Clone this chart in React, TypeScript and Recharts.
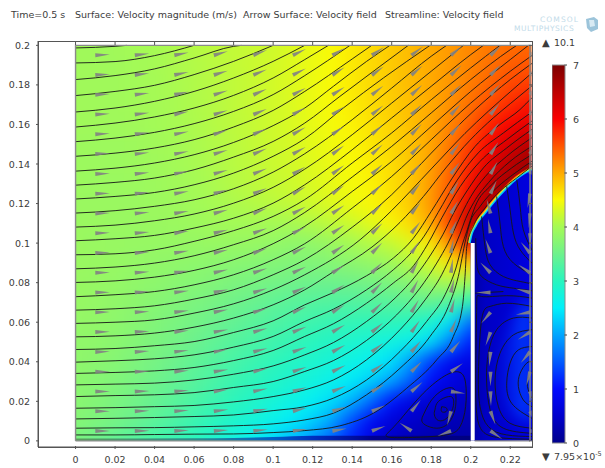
import React from 'react';
import { Area, Bar, BarChart, ComposedChart, Line, Scatter, XAxis, YAxis } from 'recharts';

const xTicks = [0, 0.02, 0.04, 0.06, 0.08, 0.1, 0.12, 0.14, 0.16, 0.18, 0.2, 0.22];
const yTicks = [0, 0.02, 0.04, 0.06, 0.08, 0.1, 0.12, 0.14, 0.16, 0.18, 0.2];
const barTicks = [0, 1, 2, 3, 4, 5, 6, 7];

// colour scale of the surface plot
const scaleStops: [number, number, number, number][] = [
  [0, 0, 0, 140], [0.5, 0, 0, 205], [1, 0, 10, 255], [1.5, 0, 90, 255], [2, 0, 165, 255],
  [2.5, 0, 240, 250], [3, 40, 245, 190], [3.5, 110, 242, 140], [4, 165, 250, 85], [4.25, 205, 250, 45], [4.5, 250, 250, 5],
  [5, 255, 170, 0], [5.5, 255, 85, 0], [6, 250, 0, 0], [6.5, 190, 0, 0], [7, 125, 0, 0],
];

// speed, rows from y=0.2 down to y=0, columns x=0, 0.01, ...
const speedRows = [
  [3.95, 3.95, 3.95, 4, 4, 4.05, 4.1, 4.15, 4.18, 4.22, 4.25, 4.33, 4.42, 4.5, 4.6, 4.7, 4.8, 4.9, 5, 5.1, 5.2, 5.28, 5.35, 5.4],
  [3.95, 3.95, 3.95, 3.98, 4, 4.05, 4.08, 4.13, 4.18, 4.23, 4.28, 4.35, 4.42, 4.5, 4.6, 4.7, 4.8, 4.9, 5, 5.1, 5.22, 5.35, 5.45, 5.5],
  [3.95, 3.95, 3.95, 3.97, 4, 4.03, 4.07, 4.12, 4.17, 4.22, 4.28, 4.34, 4.42, 4.5, 4.6, 4.7, 4.8, 4.9, 5, 5.12, 5.27, 5.42, 5.58, 5.65],
  [3.95, 3.95, 3.95, 3.97, 4, 4.02, 4.06, 4.1, 4.16, 4.22, 4.27, 4.33, 4.42, 4.5, 4.58, 4.68, 4.78, 4.88, 5, 5.15, 5.35, 5.55, 5.75, 5.9],
  [3.95, 3.95, 3.95, 3.96, 3.98, 4.01, 4.05, 4.1, 4.15, 4.2, 4.26, 4.32, 4.4, 4.47, 4.55, 4.65, 4.75, 4.87, 5.02, 5.22, 5.45, 5.8, 6, 6.15],
  [3.93, 3.93, 3.93, 3.94, 3.96, 3.99, 4.03, 4.08, 4.13, 4.19, 4.25, 4.3, 4.38, 4.45, 4.52, 4.62, 4.72, 4.85, 5.02, 5.3, 5.65, 6, 6.3, 6.55],
  [3.92, 3.92, 3.92, 3.93, 3.95, 3.98, 4.02, 4.06, 4.12, 4.17, 4.23, 4.28, 4.35, 4.42, 4.5, 4.58, 4.68, 4.83, 5.05, 5.38, 5.8, 6.2, 6.55, 6.75],
  [3.92, 3.91, 3.91, 3.92, 3.93, 3.96, 3.99, 4.04, 4.1, 4.15, 4.2, 4.25, 4.32, 4.4, 4.47, 4.55, 4.67, 4.82, 5.08, 5.45, 5.95, 6.5, 6.7, 6.7],
  [3.9, 3.9, 3.9, 3.9, 3.92, 3.94, 3.97, 4.01, 4.05, 4.1, 4.14, 4.2, 4.27, 4.35, 4.43, 4.52, 4.65, 4.8, 5.1, 5.55, 6.2, 6.65, 6.7, 6.7],
  [3.9, 3.9, 3.89, 3.89, 3.9, 3.91, 3.93, 3.96, 3.98, 4, 4, 4.02, 4.08, 4.18, 4.25, 4.38, 4.52, 4.72, 4.98, 5.65, 6.5, 6.7, 6.7, 6.7],
  [3.9, 3.89, 3.88, 3.87, 3.87, 3.87, 3.87, 3.88, 3.88, 3.88, 3.85, 3.8, 3.82, 3.9, 4, 4.1, 4.2, 4.38, 4.6, 5.2, 6.1, 6.7],
  [3.9, 3.88, 3.87, 3.85, 3.83, 3.81, 3.79, 3.77, 3.75, 3.73, 3.7, 3.68, 3.68, 3.72, 3.78, 3.85, 3.95, 4.1, 4.3, 4.6, 4.8],
  [3.88, 3.87, 3.85, 3.82, 3.79, 3.75, 3.72, 3.68, 3.64, 3.6, 3.56, 3.53, 3.5, 3.5, 3.53, 3.58, 3.65, 3.75, 3.9, 4.05, 3.95],
  [3.87, 3.85, 3.82, 3.78, 3.73, 3.68, 3.63, 3.58, 3.52, 3.47, 3.4, 3.36, 3.32, 3.3, 3.3, 3.32, 3.35, 3.4, 3.45, 3.3, 3],
  [3.85, 3.83, 3.79, 3.74, 3.68, 3.62, 3.56, 3.49, 3.43, 3.36, 3.29, 3.22, 3.16, 3.11, 3.08, 3.06, 3.05, 3, 2.85, 2.45, 1.6],
  [3.82, 3.8, 3.76, 3.7, 3.63, 3.56, 3.49, 3.41, 3.33, 3.25, 3.17, 3.09, 3.01, 2.94, 2.87, 2.8, 2.72, 2.62, 2.4, 1.75, 1.1],
  [3.8, 3.76, 3.72, 3.65, 3.58, 3.5, 3.41, 3.32, 3.23, 3.14, 3.05, 2.96, 2.87, 2.78, 2.68, 2.57, 2.4, 1.95, 1.3, 0.85, 0.7],
  [3.78, 3.73, 3.67, 3.6, 3.52, 3.43, 3.34, 3.24, 3.14, 3.04, 2.94, 2.84, 2.74, 2.62, 2.47, 2.28, 2, 1.5, 0.95, 0.7, 0.55],
  [3.75, 3.7, 3.62, 3.54, 3.45, 3.36, 3.25, 3.14, 3.03, 2.92, 2.8, 2.68, 2.55, 2.37, 2.1, 1.6, 1.05, 0.7, 0.55, 0.5, 0.4],
  [3.72, 3.65, 3.57, 3.48, 3.38, 3.27, 3.15, 3.03, 2.9, 2.77, 2.63, 2.48, 2.3, 2, 1.4, 0.9, 0.6, 0.5, 0.4, 0.35, 0.3],
  [3.6, 3.5, 3.4, 3.3, 3.2, 3.1, 3, 2.85, 2.7, 2.55, 2.35, 2.1, 1.85, 1.5, 1.1, 0.7, 0.45, 0.3, 0.25, 0.2, 0.2],
];

// arrow directions in degrees, rows y=0.195 down to 0.005, columns x=0.01, 0.03, ... 0.23
const arrowRows = [
  [3, 7, 11, 16, 21, 26, 30, 34, 37, 40, 42, 42],
  [3, 7, 12, 17, 22, 27, 32, 36, 40, 43, 45, 45],
  [3, 7, 12, 17, 23, 28, 33, 38, 42, 45, 48, 50],
  [3, 7, 12, 17, 23, 29, 34, 39, 44, 47, 51, 54],
  [3, 7, 11, 17, 23, 29, 35, 41, 45, 49, 54, 58],
  [3, 6, 11, 17, 23, 29, 36, 42, 47, 52, 57, 60],
  [2, 6, 11, 16, 22, 29, 36, 42, 48, 54, 60, 65],
  [2, 6, 10, 16, 22, 29, 36, 43, 50, 58, 65, 260],
  [2, 5, 10, 15, 21, 28, 35, 43, 51, 61, 105, 265],
  [2, 5, 9, 14, 20, 27, 35, 44, 53, 66, 100, 270],
  [2, 4, 9, 13, 19, 26, 35, 45, 56, 80, 110, 130],
  [1, 4, 8, 13, 18, 25, 33, 45, 60, 83, 135, 145],
  [1, 4, 7, 12, 17, 24, 33, 45, 62, 77, 180, 165],
  [1, 3, 7, 11, 16, 23, 32, 44, 60, 75, 230, 190],
  [1, 3, 6, 10, 15, 22, 30, 40, 55, 68, 250, 212],
  [1, 3, 6, 10, 14, 20, 28, 38, 50, 50, 265, 230],
  [0, 2, 5, 9, 13, 19, 26, 35, 45, 35, 270, 255],
  [0, 2, 5, 8, 12, 17, 22, 30, 40, -8, 272, 285],
  [0, 2, 4, 7, 10, 14, 18, 24, 50, 255, 290, 300],
  [0, 1, 3, 4, 6, 8, 10, 20, 145, 200, 325, 355],
];

const inflowLines: [number, number][][] = [
  [[0, 0.1987], [0.02, 0.1995], [0.026, 0.2]],
  [[0, 0.1911], [0.02, 0.1918], [0.04, 0.1948], [0.06, 0.2]],
  [[0, 0.1827], [0.02, 0.1847], [0.04, 0.1881], [0.06, 0.1936], [0.08, 0.1995], [0.084, 0.2]],
  [[0, 0.1746], [0.02, 0.1767], [0.04, 0.1798], [0.06, 0.1852], [0.08, 0.1919], [0.1, 0.2]],
  [[0, 0.1663], [0.02, 0.1683], [0.04, 0.1717], [0.06, 0.1767], [0.08, 0.1835], [0.1, 0.1919], [0.116, 0.2]],
  [[0, 0.1587], [0.02, 0.1607], [0.04, 0.1638], [0.06, 0.1683], [0.08, 0.1747], [0.1, 0.1835], [0.116, 0.1928], [0.128, 0.2]],
  [[0, 0.1513], [0.02, 0.1531], [0.04, 0.156], [0.06, 0.1604], [0.08, 0.1666], [0.1, 0.1751], [0.116, 0.1847], [0.1389, 0.2]],
  [[0, 0.1439], [0.02, 0.1455], [0.04, 0.1481], [0.06, 0.1523], [0.08, 0.1587], [0.1, 0.1671], [0.116, 0.1767], [0.14, 0.1931], [0.1499, 0.2]],
  [[0, 0.1364], [0.02, 0.1379], [0.04, 0.1405], [0.06, 0.1447], [0.08, 0.1509], [0.1, 0.1594], [0.116, 0.1683], [0.1305, 0.1793], [0.1473, 0.1919], [0.1591, 0.2]],
  [[0, 0.1293], [0.02, 0.1307], [0.04, 0.1329], [0.06, 0.1371], [0.08, 0.1435], [0.1, 0.1514], [0.116, 0.1607], [0.1338, 0.1742], [0.1541, 0.1894], [0.1684, 0.2]],
  [[0, 0.1223], [0.02, 0.1236], [0.04, 0.1256], [0.06, 0.1295], [0.08, 0.1354], [0.1, 0.1439], [0.116, 0.1528], [0.1355, 0.1683], [0.1558, 0.1835], [0.1794, 0.2]],
  [[0, 0.1152], [0.02, 0.1164], [0.04, 0.1186], [0.06, 0.1219], [0.08, 0.1275], [0.1, 0.1359], [0.116, 0.1452], [0.14, 0.1624], [0.16, 0.1784], [0.18, 0.1945], [0.1878, 0.2]],
  [[0, 0.1081], [0.02, 0.1091], [0.04, 0.1113], [0.06, 0.1147], [0.08, 0.1202], [0.1, 0.1282], [0.116, 0.1374], [0.14, 0.1548], [0.16, 0.1708], [0.18, 0.1869], [0.1963, 0.2]],
  [[0, 0.1012], [0.02, 0.1022], [0.04, 0.1039], [0.06, 0.1076], [0.08, 0.1126], [0.1, 0.1202], [0.116, 0.1295], [0.14, 0.1472], [0.16, 0.1633], [0.18, 0.1793], [0.2, 0.1953], [0.2064, 0.2]],
  [[0, 0.0941], [0.02, 0.0946], [0.04, 0.0966], [0.06, 0.1009], [0.08, 0.1063], [0.1, 0.1135], [0.116, 0.122], [0.14, 0.1405], [0.16, 0.1557], [0.18, 0.1725], [0.2, 0.1886], [0.2148, 0.2]],
  [[0, 0.087], [0.02, 0.0879], [0.04, 0.0899], [0.06, 0.0936], [0.08, 0.0992], [0.1, 0.1063], [0.116, 0.1155], [0.14, 0.1334], [0.16, 0.1489], [0.18, 0.1658], [0.2, 0.1827], [0.22, 0.1978], [0.2233, 0.2]],
  [[0, 0.0801], [0.02, 0.0809], [0.04, 0.0828], [0.06, 0.0862], [0.08, 0.0916], [0.1, 0.0997], [0.116, 0.1085], [0.14, 0.1261], [0.16, 0.1413], [0.18, 0.159], [0.2, 0.1767], [0.22, 0.1928], [0.2292, 0.2]],
  [[0, 0.0729], [0.02, 0.0739], [0.04, 0.0755], [0.06, 0.0789], [0.08, 0.084], [0.1, 0.0916], [0.116, 0.0997], [0.14, 0.1177], [0.16, 0.1337], [0.18, 0.1523], [0.2, 0.1708], [0.22, 0.1869], [0.2309, 0.1948]],
  [[0, 0.0661], [0.02, 0.0668], [0.04, 0.0683], [0.06, 0.0717], [0.08, 0.0764], [0.1, 0.084], [0.116, 0.0916], [0.14, 0.108], [0.16, 0.1245], [0.18, 0.1455], [0.2022, 0.1675], [0.22, 0.1827], [0.2309, 0.1908]],
  [[0, 0.0594], [0.02, 0.06], [0.04, 0.0612], [0.06, 0.0646], [0.08, 0.0693], [0.1, 0.0764], [0.116, 0.084], [0.144, 0.1017], [0.16, 0.1165], [0.18, 0.1375], [0.1971, 0.1555], [0.2089, 0.1667], [0.22, 0.1765], [0.2309, 0.186]],
  [[0, 0.0526], [0.02, 0.0531], [0.04, 0.0545], [0.06, 0.0575], [0.08, 0.0621], [0.1, 0.0688], [0.116, 0.0764], [0.1305, 0.0855], [0.15, 0.098], [0.1642, 0.1105], [0.176, 0.1235], [0.1878, 0.1385], [0.1996, 0.152], [0.2114, 0.1633], [0.22, 0.1705], [0.2309, 0.1795]],
  [[0, 0.0462], [0.02, 0.0467], [0.04, 0.0481], [0.06, 0.0502], [0.08, 0.0548], [0.1, 0.0607], [0.116, 0.0688], [0.1305, 0.075], [0.1473, 0.0835], [0.1608, 0.0924], [0.171, 0.1025], [0.18, 0.116], [0.1904, 0.1325], [0.2022, 0.1489], [0.2148, 0.16], [0.2249, 0.1675], [0.2309, 0.1735]],
  [[0, 0.0398], [0.02, 0.0405], [0.04, 0.0415], [0.06, 0.0435], [0.08, 0.0474], [0.1, 0.0528], [0.116, 0.0604], [0.1305, 0.0666], [0.1473, 0.0764], [0.1608, 0.0865], [0.1693, 0.0945], [0.1764, 0.1035], [0.1835, 0.1155], [0.1929, 0.1315], [0.2038, 0.1456], [0.2165, 0.1557], [0.2308, 0.1662]],
  [[0, 0.0341], [0.02, 0.0346], [0.04, 0.0354], [0.06, 0.0371], [0.08, 0.0406], [0.1, 0.0457], [0.116, 0.0528], [0.1305, 0.0592], [0.1473, 0.0696], [0.1608, 0.0798], [0.171, 0.0885], [0.1785, 0.1], [0.1855, 0.113], [0.1946, 0.1285], [0.2047, 0.1413], [0.2182, 0.1523], [0.2308, 0.1616]],
  [[0, 0.0283], [0.02, 0.0287], [0.04, 0.0292], [0.06, 0.0308], [0.08, 0.0337], [0.1, 0.0379], [0.116, 0.0435], [0.1305, 0.0497], [0.1473, 0.0604], [0.1617, 0.0722], [0.1726, 0.084], [0.18, 0.0945], [0.186, 0.1045], [0.1915, 0.1155], [0.1985, 0.127], [0.2064, 0.138], [0.2182, 0.1481], [0.2308, 0.1574]],
  [[0, 0.0224], [0.02, 0.0229], [0.04, 0.0233], [0.06, 0.0244], [0.08, 0.027], [0.1, 0.03], [0.116, 0.0351], [0.1305, 0.0406], [0.1473, 0.0508], [0.1625, 0.0637], [0.1743, 0.0772], [0.1828, 0.0899], [0.1885, 0.1], [0.1925, 0.1085], [0.1955, 0.115], [0.2, 0.1235], [0.2072, 0.1335], [0.2182, 0.1439], [0.2308, 0.1532]],
  [[0, 0.0165], [0.02, 0.0168], [0.04, 0.0173], [0.06, 0.0179], [0.08, 0.0197], [0.1, 0.0224], [0.116, 0.0258], [0.1305, 0.0308], [0.1473, 0.041], [0.1642, 0.0562], [0.1769, 0.0713], [0.1853, 0.084], [0.1905, 0.095], [0.1945, 0.1045], [0.1975, 0.1125], [0.2015, 0.1205], [0.2089, 0.1305], [0.2199, 0.1413], [0.2308, 0.1489]],
  [[0, 0.0111], [0.02, 0.0114], [0.04, 0.0118], [0.06, 0.0123], [0.08, 0.0131], [0.1, 0.0153], [0.116, 0.0173], [0.1305, 0.0216], [0.1473, 0.0308], [0.1642, 0.0452], [0.1777, 0.0604], [0.187, 0.0739], [0.1925, 0.0874], [0.1955, 0.0985], [0.198, 0.106], [0.2022, 0.1185], [0.2106, 0.1295], [0.2207, 0.138], [0.2308, 0.1447]],
  [[0, 0.0064], [0.02, 0.0066], [0.04, 0.0067], [0.06, 0.0071], [0.08, 0.0076], [0.1, 0.0086], [0.116, 0.0106], [0.1305, 0.014], [0.1473, 0.0233], [0.1642, 0.0367], [0.1794, 0.0528], [0.1887, 0.068], [0.1937, 0.0831], [0.1974, 0.1017], [0.1993, 0.1093], [0.2047, 0.1185], [0.2131, 0.1279], [0.2224, 0.1354], [0.2308, 0.1413]],
  [[0, 0.003], [0.02, 0.003], [0.04, 0.0032], [0.06, 0.0034], [0.08, 0.0035], [0.1, 0.0042], [0.116, 0.0052], [0.1338, 0.0076], [0.1507, 0.014], [0.1676, 0.0266], [0.1828, 0.041], [0.1912, 0.0528], [0.1958, 0.068], [0.1971, 0.0831], [0.198, 0.0983], [0.2017, 0.1093], [0.2072, 0.1177], [0.2148, 0.1262], [0.2232, 0.1329], [0.2308, 0.1388]],
];

const cornerVortex: [number, number][][] = [
  [[0.1853, 0.0173], [0.1878, 0.0165], [0.1875, 0.0148], [0.1853, 0.0148], [0.1853, 0.0173]],
  [[0.1819, 0.0157], [0.1836, 0.0199], [0.1887, 0.0224], [0.1912, 0.0211], [0.1909, 0.0165], [0.1878, 0.0114], [0.1836, 0.0103], [0.1816, 0.0131], [0.1819, 0.0157]],
  [[0.176, 0.0131], [0.1802, 0.0207], [0.1861, 0.0258], [0.1912, 0.0266], [0.1925, 0.0224], [0.192, 0.0157], [0.1887, 0.0089], [0.1828, 0.0064], [0.1769, 0.0081], [0.1752, 0.0106], [0.176, 0.0131]],
  [[0.1575, 0.0035], [0.1642, 0.0106], [0.176, 0.0241], [0.1878, 0.0334], [0.1946, 0.0346], [0.1974, 0.0292], [0.1974, 0.0173], [0.1946, 0.0072], [0.1878, 0.003], [0.1726, 0.0018], [0.1591, 0.0018], [0.1575, 0.0035]],
];

const chamberLines: [number, number][][] = [
  [[0.2025, 0.1025], [0.203, 0.0899], [0.2055, 0.0831], [0.2131, 0.0789], [0.2216, 0.0772], [0.2309, 0.0759]],
  [[0.2055, 0.1135], [0.2072, 0.0983], [0.2098, 0.089], [0.2165, 0.0831], [0.225, 0.0806], [0.2309, 0.0794]],
  [[0.2131, 0.1236], [0.2148, 0.1101], [0.2165, 0.0983], [0.2216, 0.0899], [0.2309, 0.084]],
  [[0.2182, 0.1287], [0.2199, 0.1169], [0.2216, 0.1051], [0.225, 0.0966], [0.2309, 0.0899]],
  [[0.2233, 0.1321], [0.225, 0.1186], [0.2266, 0.1068], [0.2309, 0.0966]],
  [[0.2022, 0.0747], [0.2165, 0.0755]],
  [[0.2309, 0.0722], [0.2182, 0.0734], [0.2055, 0.073], [0.203, 0.068], [0.2025, 0.0342], [0.203, 0.014], [0.2055, 0.0055], [0.2131, 0.0018], [0.2309, 0.0008]],
  [[0.2309, 0.068], [0.2182, 0.0696], [0.2098, 0.068], [0.2055, 0.0612], [0.2039, 0.0342], [0.2047, 0.0173], [0.2089, 0.0072], [0.2182, 0.003], [0.2309, 0.0022]],
  [[0.2309, 0.0621], [0.2216, 0.0621], [0.2131, 0.0562], [0.2089, 0.0443], [0.208, 0.0308], [0.2098, 0.0157], [0.2165, 0.0064], [0.2309, 0.0038]],
  [[0.2309, 0.0562], [0.2216, 0.0536], [0.2148, 0.0443], [0.2123, 0.0308], [0.214, 0.0173], [0.2199, 0.0089], [0.2309, 0.0064]],
  [[0.2309, 0.0477], [0.2241, 0.046], [0.2199, 0.0393], [0.2182, 0.0292], [0.2207, 0.019], [0.2309, 0.0114]],
  [[0.2309, 0.0401], [0.2283, 0.0393], [0.225, 0.0342], [0.2241, 0.0275], [0.2266, 0.0207], [0.2309, 0.0173]],
  [[0.2309, 0.035], [0.2292, 0.0325], [0.2287, 0.0275], [0.2309, 0.0216]],
];

const separator: [number, number][] = [
  [0.2, 0.1], [0.2006, 0.103], [0.203, 0.1085], [0.208, 0.1153], [0.213, 0.1215], [0.218, 0.127], [0.224, 0.1325], [0.231, 0.1368],
];
const wallLayer: [number, number][] = [[0, 0.0012], [0.06, 0.0013], [0.08, 0.0015], [0.1, 0.0019], [0.12, 0.0026], [0.2, 0.0026]];
const chamberGlow: [number, number, number][] = [
  [0.214, 0.03, 0.04], [0.219, 0.016, 0.056], [0.224, 0.012, 0.066], [0.231, 0.01, 0.072], [0.245, 0.01, 0.072],
];
const frameEdges: [number, number][][] = [
  [[0, 0], [0, 0.2], [0.23, 0.2], [0.23, 0]],
  [[0, 0], [0.2, 0]],
  [[0.202, 0], [0.23, 0]],
];
const strip: [number, number][] = [[0.2, 0.1], [0.202, 0.1]];

const X_DOMAIN: [number, number] = [-0.019, 0.231];
const Y_DOMAIN: [number, number] = [-0.0031, 0.2022];

const topTickPoints = xTicks.map(x => ({ x, y: Y_DOMAIN[1] }));
const rightTickPoints = yTicks.map(y => ({ x: X_DOMAIN[1], y }));

const toPoints = (pts: [number, number][]) => pts.map(([x, y]) => ({ x, y }));
const CELL = 20.5;
const EDGE = 30;

const heatCells = speedRows.flatMap((row, r) =>
  row.map((v, c) => ({
    x: +(c * 0.01).toFixed(2),
    y: +(0.2 - r * 0.01).toFixed(2),
    v,
    last: c === row.length - 1,
  }))
);
const arrows = arrowRows.flatMap((row, r) =>
  row.map((a, c) => ({ x: +(0.01 + c * 0.02).toFixed(2), y: +(0.195 - r * 0.01).toFixed(3), a }))
);
const regionData = separator.map(([x, y]) => ({ x, y: [0, y] }));
const glowData = chamberGlow.map(([x, lo, hi]) => ({ x, y: [lo, hi] }));
const wallData = wallLayer.map(([x, y]) => ({ x, y: [0, y] }));
const stripData = strip.map(([x, y]) => ({ x, y: [0, y] }));

function speedColor(v: number) {
  for (let i = 1; i < scaleStops.length; i++) {
    if (v <= scaleStops[i][0]) {
      const a = scaleStops[i - 1];
      const b = scaleStops[i];
      const t = (v - a[0]) / (b[0] - a[0]);
      const mix = (k: number) => Math.round(a[k] + (b[k] - a[k]) * t);
      return `rgb(${mix(1)},${mix(2)},${mix(3)})`;
    }
  }
  return 'rgb(125,0,0)';
}

const HeatCell = (props: any) => {
  const { cx, cy, payload } = props;
  const left = payload.x === 0 ? EDGE : 0;
  const right = payload.last ? EDGE : 0;
  const top = payload.y === 0.2 ? EDGE : 0;
  const bottom = payload.y === 0 ? EDGE : 0;
  return (
    <rect
      x={cx - CELL / 2 - left}
      y={cy - CELL / 2 - top}
      width={CELL + left + right}
      height={CELL + top + bottom}
      fill={speedColor(payload.v)}
    />
  );
};

const ArrowMark = (props: any) => {
  const { cx, cy, payload } = props;
  return (
    <polygon
      points="0,-2 14.5,0 0,2"
      transform={`translate(${cx} ${cy}) rotate(${-payload.a})`}
      fill="#828282"
      opacity={0.92}
    />
  );
};

const fmt = (v: number) => String(+v.toFixed(2));
const tickStyle = { fontSize: 9.5, fill: '#3c3c3c', fontFamily: '"DejaVu Sans"' };
const spine = '#555';

const BottomTick = ({ x, y, payload }: any) => (
  <g>
    <line x1={x} x2={x} y1={y} y2={y - 3} stroke={spine} />
    <text x={x} y={y + 14} textAnchor="middle" {...tickStyle}>{fmt(payload.value)}</text>
  </g>
);
const LeftTick = ({ x, y, payload }: any) => (
  <g>
    <line x1={x} x2={x + 3} y1={y} y2={y} stroke={spine} />
    <text x={x - 6} y={y + 3.5} textAnchor="end" {...tickStyle}>{fmt(payload.value)}</text>
  </g>
);
const TopTickMark = ({ cx, cy }: any) => <line x1={cx} x2={cx} y1={cy} y2={cy + 4} stroke={spine} />;
const RightTickMark = ({ cx, cy }: any) => <line x1={cx} x2={cx - 3} y1={cy} y2={cy} stroke={spine} />;
const BarTick = ({ x, y, payload }: any) => (
  <g>
    <line x1={x} x2={x - 2.5} y1={y} y2={y} stroke="#444" />
    <text x={x + 6} y={y + 3.5} {...tickStyle}>{payload.value}</text>
  </g>
);

function FieldChart() {
  const streamStyle = { stroke: '#161616', strokeWidth: 0.9, dot: false, isAnimationActive: false, legendType: 'none' as const, zIndex: 500 };
  return (
    <ComposedChart width={605} height={468} margin={{ top: 41, right: 73, bottom: 0, left: 0 }}>
      <defs>
        <filter id="heatBlur" x="-8%" y="-8%" width="116%" height="116%" colorInterpolationFilters="sRGB">
          <feGaussianBlur stdDeviation="9" />
        </filter>
        <filter id="softBlur" x="-40%" y="-40%" width="180%" height="180%" colorInterpolationFilters="sRGB">
          <feGaussianBlur stdDeviation="7" />
        </filter>
        <clipPath id="plotClip">
          <rect x={75.5} y={45.5} width={456} height={395.5} />
        </clipPath>
        <linearGradient id="chamberFill" x1="0" y1="0" x2="1" y2="0">
          <stop offset="0%" stopColor="#0000a4" />
          <stop offset="25%" stopColor="#0000c4" />
          <stop offset="100%" stopColor="#0000e0" />
        </linearGradient>
        <linearGradient id="glowFill" x1="0" y1="0" x2="1" y2="0">
          <stop offset="0%" stopColor="#0030ff" stopOpacity={0.15} />
          <stop offset="55%" stopColor="#0048ff" stopOpacity={1} />
          <stop offset="100%" stopColor="#0048ff" stopOpacity={1} />
        </linearGradient>
        <linearGradient id="wallFill" x1="0" y1="0" x2="1" y2="0">
          <stop offset="0%" stopColor="#5c9c5c" />
          <stop offset="30%" stopColor="#2c8c8c" />
          <stop offset="50%" stopColor="#0060c8" />
          <stop offset="60%" stopColor="#0030c0" />
          <stop offset="75%" stopColor="#000090" />
          <stop offset="100%" stopColor="#000080" />
        </linearGradient>
      </defs>
      <style>{`.heat-layer{filter:url(#heatBlur);clip-path:url(#plotClip)}.arrow-layer{clip-path:url(#plotClip)}.glow-layer{filter:url(#softBlur);clip-path:url(#plotClip)}`}</style>

      <XAxis type="number" dataKey="x" domain={X_DOMAIN} ticks={xTicks} allowDataOverflow height={21} stroke={spine} tickSize={0} tick={<BottomTick />} interval={0} />
      <YAxis type="number" dataKey="y" domain={Y_DOMAIN} ticks={yTicks} allowDataOverflow width={38} stroke={spine} tickSize={0} tick={<LeftTick />} interval={0} />

      <Scatter className="heat-layer" data={heatCells} shape={<HeatCell />} isAnimationActive={false} zIndex={100} />

      <Line data={toPoints(separator)} dataKey="y" type="monotone" stroke="#ff6a00" strokeWidth={7} dot={false} isAnimationActive={false} zIndex={150} />
      <Line data={toPoints(separator)} dataKey="y" type="monotone" stroke="#ffe000" strokeWidth={5.4} dot={false} isAnimationActive={false} zIndex={151} />
      <Line data={toPoints(separator)} dataKey="y" type="monotone" stroke="#70f0a0" strokeWidth={4} dot={false} isAnimationActive={false} zIndex={152} />
      <Line data={toPoints(separator)} dataKey="y" type="monotone" stroke="#00c8ff" strokeWidth={2.6} dot={false} isAnimationActive={false} zIndex={153} />

      <Area data={regionData} dataKey="y" type="monotone" fill="url(#chamberFill)" fillOpacity={1} stroke="none" dot={false} isAnimationActive={false} zIndex={200} />
      <Area className="glow-layer" data={glowData} dataKey="y" type="monotone" fill="url(#glowFill)" fillOpacity={1} stroke="none" dot={false} isAnimationActive={false} zIndex={210} />
      <Area data={wallData} dataKey="y" type="monotone" fill="url(#wallFill)" fillOpacity={1} stroke="none" dot={false} isAnimationActive={false} zIndex={220} />
      <Area data={stripData} dataKey="y" type="linear" fill="#ffffff" fillOpacity={1} stroke="none" dot={false} isAnimationActive={false} zIndex={230} />

      {inflowLines.map((pts, i) => (
        <Line key={`in-${i}`} data={toPoints(pts)} dataKey="y" type="monotone" {...streamStyle} />
      ))}
      {cornerVortex.map((pts, i) => (
        <Line key={`vx-${i}`} data={toPoints(pts)} dataKey="y" type="natural" {...streamStyle} />
      ))}
      {chamberLines.map((pts, i) => (
        <Line key={`ch-${i}`} data={toPoints(pts)} dataKey="y" type="natural" {...streamStyle} />
      ))}

      <Scatter className="arrow-layer" data={arrows} shape={<ArrowMark />} isAnimationActive={false} zIndex={600} />

      {frameEdges.map((pts, i) => (
        <Line key={`edge-${i}`} data={toPoints(pts)} dataKey="y" type="linear" stroke="#8a8a8a" strokeWidth={1.4} dot={false} isAnimationActive={false} zIndex={700} />
      ))}
      <Scatter data={topTickPoints} shape={<TopTickMark />} isAnimationActive={false} zIndex={720} />
      <Scatter data={rightTickPoints} shape={<RightTickMark />} isAnimationActive={false} zIndex={720} />
    </ComposedChart>
  );
}

function ScaleBar() {
  return (
    <BarChart width={43} height={398} data={[{ name: 'speed', v: 7 }]} margin={{ top: 10, right: 0, bottom: 10, left: 0 }} barCategoryGap={0}>
      <defs>
        <linearGradient id="scaleFill" x1="0" y1="1" x2="0" y2="0">
          {scaleStops.map(s => (
            <stop key={s[0]} offset={`${(s[0] / 7) * 100}%`} stopColor={`rgb(${s[1]},${s[2]},${s[3]})`} />
          ))}
        </linearGradient>
      </defs>
      <XAxis dataKey="name" hide />
      <YAxis orientation="right" type="number" domain={[0, 7]} ticks={barTicks} width={30} axisLine={false} tickSize={0} tick={<BarTick />} interval={0} />
      <Bar dataKey="v" fill="url(#scaleFill)" stroke="#8a8a8a" isAnimationActive={false} />
    </BarChart>
  );
}

const lineText: React.CSSProperties = {
  position: 'absolute',
  whiteSpace: 'pre',
  lineHeight: '12px',
  fontSize: 9.5,
  color: '#3c3c3c',
};

export default function App() {
  return (
    <div style={{ position: 'absolute', left: 0, top: 0, width: 605, height: 468, background: '#fff', fontFamily: '"DejaVu Sans"', overflow: 'hidden' }}>
      <div style={{ ...lineText, left: 11, top: 9 }}>Time=0.5 s</div>
      <div style={{ ...lineText, left: 75, top: 9 }}>Surface: Velocity magnitude (m/s)</div>
      <div style={{ ...lineText, left: 243, top: 9 }}>Arrow Surface: Velocity field</div>
      <div style={{ ...lineText, left: 385, top: 9 }}>Streamline: Velocity field</div>

      <svg style={{ position: 'absolute', left: 510, top: 12 }} width={92} height={24}>
        <text x={30} y={10} fontSize={7.5} letterSpacing={1.1} fill="#c2dbe9" fontFamily='"DejaVu Sans"'>COMSOL</text>
        <text x={4} y={19} fontSize={7.5} letterSpacing={0.55} fill="#c2dbe9" fontFamily='"DejaVu Sans"'>MULTIPHYSICS</text>
        <polygon points="76,7 84,5 88,8 88,17 81,20 77,16" fill="#9cc4da" />
        <polygon points="79,8 84,8 85,14 80,15" fill="#d8eaf3" />
      </svg>

      <FieldChart />

      {/* axes box, all four sides */}
      <div style={{ position: 'absolute', left: 38, top: 41, width: 495, height: 407, boxSizing: 'border-box', border: `1px solid ${spine}`, pointerEvents: 'none' }} />

      <div style={{ position: 'absolute', left: 552, top: 55 }}>
        <ScaleBar />
      </div>

      <div style={{ ...lineText, left: 542, top: 37, fontSize: 10 }}>▲</div>
      <div style={{ ...lineText, left: 554, top: 37 }}>10.1</div>
      <div style={{ ...lineText, left: 542, top: 451, fontSize: 10 }}>▼</div>
      <div style={{ ...lineText, left: 554, top: 451 }}>
        7.95×10
        <sup style={{ fontSize: 6.5, lineHeight: 0 }}>-5</sup>
      </div>
    </div>
  );
}
